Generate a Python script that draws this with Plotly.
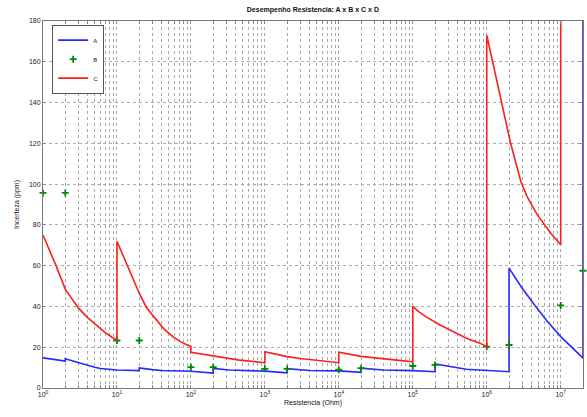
import math
import plotly.graph_objects as go

# ---------------- data ----------------
a_x = [1, 1.5, 2, 2, 2.5, 3, 4, 5, 6, 8, 10, 20, 20, 30, 40, 100, 200, 200, 330,
       1000, 2000, 2000, 4000, 1e4, 2e4, 2e4, 4e4, 1e5, 2e5, 2e5, 3.5e5, 5.3e5,
       8e5, 2e6, 2e6, 2.9e6, 4.4e6, 6.6e6, 1e7, 1.5e7, 2e7, 2e7]
a_y = [14.8, 14.0, 13.2, 14.3, 13.3, 12.5, 11.0, 10.2, 9.6, 9.2, 8.8, 8.5, 9.8,
       9.0, 8.6, 8.2, 7.3, 9.6, 8.8, 8.3, 7.4, 9.5, 8.6, 8.4, 7.7, 9.7, 8.8, 8.5,
       8.0, 11.8, 10.2, 9.2, 8.8, 8.0, 58.8, 49.8, 40.8, 32.6, 25.2, 18.7, 14.6, 400]

b_x = [1, 2, 10, 20, 100, 200, 1000, 2000, 1e4, 2e4, 1e5, 2e5, 1e6, 2e6, 1e7, 2e7]
b_y = [95.7, 95.7, 23.3, 23.3, 10.2, 10.2, 9.4, 9.4, 9.0, 9.7, 10.8, 11.3, 20.3,
       21.1, 40.5, 57.5]

c_x = [1, 1.25, 1.5, 2, 2.5, 3, 4, 5, 6, 7, 8.5, 10,
       10, 12.5, 15, 20, 25, 33, 43, 57, 70, 85, 100,
       100, 160, 230, 300, 430, 570, 780, 1000,
       1000, 1500, 2000, 3000, 3700, 5000, 6900, 1e4,
       1e4, 1.5e4, 2e4, 2.9e4, 4e4, 5.4e4, 7.5e4, 1e5,
       1e5, 1.2e5, 1.5e5, 2.3e5, 3.5e5, 5.3e5, 8.1e5, 1e6,
       1e6, 1.3e6, 1.7e6, 2.1e6, 2.9e6, 3.5e6, 4.8e6, 6e6, 7.3e6, 1e7, 1e7]
c_y = [75, 67, 60, 48.5, 43.5, 39.3, 34.5, 31.5, 29, 27, 25, 23.5,
       72, 64, 57, 46.5, 39.5, 34, 29, 25.2, 23, 21.5, 20.5,
       17.5, 16.2, 15.3, 14.6, 13.8, 13.3, 12.8, 12.4,
       17.8, 16.4, 15.4, 14.5, 14.1, 13.5, 12.9, 12.4,
       17.6, 16.2, 15.5, 14.9, 14.3, 13.8, 13.3, 12.8,
       40, 37.5, 35, 31, 27.7, 24.4, 22, 20.3,
       173, 154, 134, 120, 101, 94, 85, 80, 76, 70.3, 400]

x_max = 2e7
y_ticks = [0, 20, 40, 60, 80, 100, 120, 140, 160, 180]

# tick values at every 1..9 x 10^k, labels only at decades
x_tickvals, x_ticktext = [], []
for k in range(0, 8):
    for m in range(1, 10):
        v = m * 10 ** k
        if v > x_max:
            break
        x_tickvals.append(v)
        x_ticktext.append("10<sup>%d</sup>" % k if m == 1 else "")

font_family = "Liberation Sans, Arial, sans-serif"

fig = go.Figure()
fig.add_trace(go.Scatter(x=a_x, y=a_y, mode="lines", name="A",
                         line=dict(color="rgb(40,40,255)", width=1.6)))
fig.add_trace(go.Scatter(x=b_x, y=b_y, mode="markers", name="B", cliponaxis=False,
                         marker=dict(symbol="cross-thin", size=5, color="rgb(0,140,0)",
                                     line=dict(color="rgb(0,140,0)", width=1.8))))
fig.add_trace(go.Scatter(x=c_x, y=c_y, mode="lines", name="C",
                         line=dict(color="rgb(255,30,30)", width=1.6)))

axis_common = dict(showline=True, linecolor="#777", linewidth=1, mirror="ticks",
                   ticks="inside", ticklen=3, tickcolor="#888",
                   showgrid=True, gridcolor="#aaa", griddash="dot", gridwidth=1,
                   zeroline=False, tickfont=dict(size=7, color="#222", family=font_family))

fig.update_xaxes(type="log", range=[0, math.log10(x_max)], tickangle=0,
                 tickmode="array", tickvals=x_tickvals, ticktext=x_ticktext,
                 title=dict(text="Resistencia (Ohm)", standoff=2,
                            font=dict(size=7, color="#111", family=font_family)),
                 **axis_common)
fig.update_yaxes(range=[0, 180], tickmode="array", tickvals=y_ticks,
                 title=dict(text="Incerteza (ppm)", standoff=8,
                            font=dict(size=7, color="#111", family=font_family)),
                 **axis_common)

fig.update_layout(
    width=587, height=417,
    margin=dict(l=43, r=4, t=21, b=29),
    paper_bgcolor="white", plot_bgcolor="white",
    title=dict(text="<b>Desempenho Resistencia: A x B x C x D</b>", x=0.533, xanchor="center",
               y=0.978, yanchor="middle",
               font=dict(size=7, color="#111", family=font_family)),
    legend=dict(x=0.017, y=0.99, xanchor="left", yanchor="top",
                bgcolor="white", bordercolor="#555", borderwidth=1,
                font=dict(size=6, color="#222", family=font_family),
                itemwidth=30, tracegroupgap=0),
    showlegend=True,
)

fig.write_html("out.html")
